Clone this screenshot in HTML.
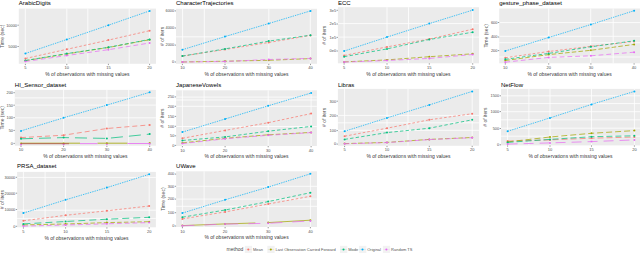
<!DOCTYPE html><html><head><meta charset="utf-8"><style>html,body{margin:0;padding:0;background:#fff;width:640px;height:253px;overflow:hidden}svg{display:block}text{font-family:"Liberation Sans",sans-serif}</style></head><body>
<svg width="640" height="253" viewBox="0 0 640 253">
<rect width="640" height="253" fill="#fff"/>
<g><rect x="18.8" y="8.6" width="137.2" height="55.2" fill="#EBEBEB"/><line x1="25.3" x2="25.3" y1="8.6" y2="63.8" stroke="#fff" stroke-width="0.8"/><line x1="66.8" x2="66.8" y1="8.6" y2="63.8" stroke="#fff" stroke-width="0.8"/><line x1="87.8" x2="87.8" y1="8.6" y2="63.8" stroke="#fff" stroke-width="0.8"/><line x1="129.2" x2="129.2" y1="8.6" y2="63.8" stroke="#fff" stroke-width="0.8"/><line x1="149.6" x2="149.6" y1="8.6" y2="63.8" stroke="#fff" stroke-width="0.8"/><polyline points="25.4,58.5 66.8,49.3 108.4,40.1 149.6,30.7" fill="none" stroke="#F8766D" stroke-width="0.72" stroke-dasharray="2.6 2"/><circle cx="25.4" cy="58.5" r="1" fill="#F8766D"/><circle cx="66.8" cy="49.3" r="1" fill="#F8766D"/><circle cx="108.4" cy="40.1" r="1" fill="#F8766D"/><circle cx="149.6" cy="30.7" r="1" fill="#F8766D"/><polyline points="25.4,60.7 66.8,53.9 108.4,47.5 149.6,39.7" fill="none" stroke="#A3A500" stroke-width="0.72" stroke-dasharray="4.5 2.2"/><circle cx="25.4" cy="60.7" r="1" fill="#A3A500"/><circle cx="66.8" cy="53.9" r="1" fill="#A3A500"/><circle cx="108.4" cy="47.5" r="1" fill="#A3A500"/><circle cx="149.6" cy="39.7" r="1" fill="#A3A500"/><polyline points="25.4,60.5 66.8,53.6 108.4,47.3 149.6,39.4" fill="none" stroke="#00BF7D" stroke-width="0.72" stroke-dasharray="3.4 2.2"/><circle cx="25.4" cy="60.5" r="1" fill="#00BF7D"/><circle cx="66.8" cy="53.6" r="1" fill="#00BF7D"/><circle cx="108.4" cy="47.3" r="1" fill="#00BF7D"/><circle cx="149.6" cy="39.4" r="1" fill="#00BF7D"/><polyline points="25.4,53.5 66.8,39.5 108.4,25.2 149.6,10.9" fill="none" stroke="#00B0F6" stroke-width="0.72" stroke-dasharray="1.4 1"/><circle cx="25.4" cy="53.5" r="1" fill="#00B0F6"/><circle cx="66.8" cy="39.5" r="1" fill="#00B0F6"/><circle cx="108.4" cy="25.2" r="1" fill="#00B0F6"/><circle cx="149.6" cy="10.9" r="1" fill="#00B0F6"/><polyline points="25.4,61.5 66.8,55.5 108.4,49.7 149.6,43" fill="none" stroke="#E76BF3" stroke-width="0.72" stroke-dasharray="4.8 3"/><circle cx="25.4" cy="61.5" r="1" fill="#E76BF3"/><circle cx="66.8" cy="55.5" r="1" fill="#E76BF3"/><circle cx="108.4" cy="49.7" r="1" fill="#E76BF3"/><circle cx="149.6" cy="43" r="1" fill="#E76BF3"/><line x1="25.4" x2="25.4" y1="63.8" y2="65.1" stroke="#333" stroke-width="0.5"/><text x="25.4" y="69.4" font-size="4" fill="#4D4D4D" fill-opacity="1" text-anchor="middle">5</text><line x1="66.8" x2="66.8" y1="63.8" y2="65.1" stroke="#333" stroke-width="0.5"/><text x="66.8" y="69.4" font-size="4" fill="#4D4D4D" fill-opacity="1" text-anchor="middle">10</text><line x1="108.4" x2="108.4" y1="63.8" y2="65.1" stroke="#333" stroke-width="0.5"/><text x="108.4" y="69.4" font-size="4" fill="#4D4D4D" fill-opacity="1" text-anchor="middle">15</text><line x1="149.6" x2="149.6" y1="63.8" y2="65.1" stroke="#333" stroke-width="0.5"/><text x="149.6" y="69.4" font-size="4" fill="#4D4D4D" fill-opacity="1" text-anchor="middle">20</text><line x1="17.5" x2="18.8" y1="25.2" y2="25.2" stroke="#333" stroke-width="0.5"/><text x="17" y="26.55" font-size="3.9" fill="#4D4D4D" fill-opacity="1" text-anchor="end">10000</text><line x1="17.5" x2="18.8" y1="46.5" y2="46.5" stroke="#333" stroke-width="0.5"/><text x="17" y="47.85" font-size="3.9" fill="#4D4D4D" fill-opacity="1" text-anchor="end">5000</text><text x="18.8" y="4.7" font-size="6" fill="#000" fill-opacity="1">ArabicDigits</text><text x="87.4" y="76.1" font-size="5" fill="#000" fill-opacity="0.85" text-anchor="middle">% of observations with missing values</text><text transform="translate(3.6,36.2) rotate(-90)" font-size="5" fill="#000" fill-opacity="0.75" text-anchor="middle">Time (sec)</text></g>
<g><rect x="176" y="8.8" width="141" height="55" fill="#EBEBEB"/><line x1="176" x2="317" y1="36.8" y2="36.8" stroke="#fff" stroke-width="0.8"/><line x1="182.6" x2="182.6" y1="8.8" y2="63.8" stroke="#fff" stroke-width="0.8"/><line x1="204.3" x2="204.3" y1="8.8" y2="63.8" stroke="#fff" stroke-width="0.8"/><line x1="268.8" x2="268.8" y1="8.8" y2="63.8" stroke="#fff" stroke-width="0.8"/><line x1="310.3" x2="310.3" y1="8.8" y2="63.8" stroke="#fff" stroke-width="0.8"/><polyline points="182.4,56.1 225,49.5 268.8,42.5 310.5,35.4" fill="none" stroke="#F8766D" stroke-width="0.72" stroke-dasharray="2.6 2"/><circle cx="182.4" cy="56.1" r="1" fill="#F8766D"/><circle cx="225" cy="49.5" r="1" fill="#F8766D"/><circle cx="268.8" cy="42.5" r="1" fill="#F8766D"/><circle cx="310.5" cy="35.4" r="1" fill="#F8766D"/><polyline points="182.4,62 225,61.2 268.8,60.3 310.5,58.6" fill="none" stroke="#A3A500" stroke-width="0.72" stroke-dasharray="4.5 2.2"/><circle cx="182.4" cy="62" r="1" fill="#A3A500"/><circle cx="225" cy="61.2" r="1" fill="#A3A500"/><circle cx="268.8" cy="60.3" r="1" fill="#A3A500"/><circle cx="310.5" cy="58.6" r="1" fill="#A3A500"/><polyline points="182.4,56.1 225,48.9 268.8,41.1 310.5,35.2" fill="none" stroke="#00BF7D" stroke-width="0.72" stroke-dasharray="3.4 2.2"/><circle cx="182.4" cy="56.1" r="1" fill="#00BF7D"/><circle cx="225" cy="48.9" r="1" fill="#00BF7D"/><circle cx="268.8" cy="41.1" r="1" fill="#00BF7D"/><circle cx="310.5" cy="35.2" r="1" fill="#00BF7D"/><polyline points="182.4,49.7 225,36.6 268.8,23.5 310.5,10.9" fill="none" stroke="#00B0F6" stroke-width="0.72" stroke-dasharray="1.4 1"/><circle cx="182.4" cy="49.7" r="1" fill="#00B0F6"/><circle cx="225" cy="36.6" r="1" fill="#00B0F6"/><circle cx="268.8" cy="23.5" r="1" fill="#00B0F6"/><circle cx="310.5" cy="10.9" r="1" fill="#00B0F6"/><polyline points="182.4,62 225,61.5 268.8,59.5 310.5,58.4" fill="none" stroke="#E76BF3" stroke-width="0.72" stroke-dasharray="4.8 3"/><circle cx="182.4" cy="62" r="1" fill="#E76BF3"/><circle cx="225" cy="61.5" r="1" fill="#E76BF3"/><circle cx="268.8" cy="59.5" r="1" fill="#E76BF3"/><circle cx="310.5" cy="58.4" r="1" fill="#E76BF3"/><line x1="182.4" x2="182.4" y1="63.8" y2="65.1" stroke="#333" stroke-width="0.5"/><text x="182.4" y="69.4" font-size="4" fill="#4D4D4D" fill-opacity="1" text-anchor="middle">10</text><line x1="225" x2="225" y1="63.8" y2="65.1" stroke="#333" stroke-width="0.5"/><text x="225" y="69.4" font-size="4" fill="#4D4D4D" fill-opacity="1" text-anchor="middle">20</text><line x1="268.8" x2="268.8" y1="63.8" y2="65.1" stroke="#333" stroke-width="0.5"/><text x="268.8" y="69.4" font-size="4" fill="#4D4D4D" fill-opacity="1" text-anchor="middle">30</text><line x1="310.5" x2="310.5" y1="63.8" y2="65.1" stroke="#333" stroke-width="0.5"/><text x="310.5" y="69.4" font-size="4" fill="#4D4D4D" fill-opacity="1" text-anchor="middle">40</text><line x1="174.7" x2="176" y1="10.9" y2="10.9" stroke="#333" stroke-width="0.5"/><text x="174.2" y="12.25" font-size="3.9" fill="#4D4D4D" fill-opacity="1" text-anchor="end">6000</text><line x1="174.7" x2="176" y1="28" y2="28" stroke="#333" stroke-width="0.5"/><text x="174.2" y="29.35" font-size="3.9" fill="#4D4D4D" fill-opacity="1" text-anchor="end">4000</text><line x1="174.7" x2="176" y1="45.1" y2="45.1" stroke="#333" stroke-width="0.5"/><text x="174.2" y="46.45" font-size="3.9" fill="#4D4D4D" fill-opacity="1" text-anchor="end">2000</text><line x1="174.7" x2="176" y1="62" y2="62" stroke="#333" stroke-width="0.5"/><text x="174.2" y="63.35" font-size="3.9" fill="#4D4D4D" fill-opacity="1" text-anchor="end">0</text><text x="176" y="4.7" font-size="6" fill="#000" fill-opacity="1">CharacterTrajectories</text><text x="246.5" y="76.1" font-size="5" fill="#000" fill-opacity="0.85" text-anchor="middle">% of observations with missing values</text><text transform="translate(164.2,36.3) rotate(-90)" font-size="5" fill="#000" fill-opacity="0.75" text-anchor="middle"># of iters</text></g>
<g><rect x="337.9" y="7.2" width="141.1" height="56.1" fill="#EBEBEB"/><line x1="337.9" x2="479" y1="23.6" y2="23.6" stroke="#fff" stroke-width="0.8"/><line x1="337.9" x2="479" y1="37.1" y2="37.1" stroke="#fff" stroke-width="0.8"/><line x1="344.1" x2="344.1" y1="7.2" y2="63.3" stroke="#fff" stroke-width="0.8"/><line x1="387" x2="387" y1="7.2" y2="63.3" stroke="#fff" stroke-width="0.8"/><line x1="408.5" x2="408.5" y1="7.2" y2="63.3" stroke="#fff" stroke-width="0.8"/><line x1="472.7" x2="472.7" y1="7.2" y2="63.3" stroke="#fff" stroke-width="0.8"/><polyline points="344.1,55.5 387,46.9 429.3,39 472.7,29.2" fill="none" stroke="#F8766D" stroke-width="0.72" stroke-dasharray="2.6 2"/><circle cx="344.1" cy="55.5" r="1" fill="#F8766D"/><circle cx="387" cy="46.9" r="1" fill="#F8766D"/><circle cx="429.3" cy="39" r="1" fill="#F8766D"/><circle cx="472.7" cy="29.2" r="1" fill="#F8766D"/><polyline points="344.1,61.9 387,59.9 429.3,56.7 472.7,53.8" fill="none" stroke="#A3A500" stroke-width="0.72" stroke-dasharray="4.5 2.2"/><circle cx="344.1" cy="61.9" r="1" fill="#A3A500"/><circle cx="387" cy="59.9" r="1" fill="#A3A500"/><circle cx="429.3" cy="56.7" r="1" fill="#A3A500"/><circle cx="472.7" cy="53.8" r="1" fill="#A3A500"/><polyline points="344.1,56.7 387,48.9 429.3,39.5 472.7,32.2" fill="none" stroke="#00BF7D" stroke-width="0.72" stroke-dasharray="3.4 2.2"/><circle cx="344.1" cy="56.7" r="1" fill="#00BF7D"/><circle cx="387" cy="48.9" r="1" fill="#00BF7D"/><circle cx="429.3" cy="39.5" r="1" fill="#00BF7D"/><circle cx="472.7" cy="32.2" r="1" fill="#00BF7D"/><polyline points="344.1,51.1 387,37.1 429.3,23.6 472.7,10.1" fill="none" stroke="#00B0F6" stroke-width="0.72" stroke-dasharray="1.4 1"/><circle cx="344.1" cy="51.1" r="1" fill="#00B0F6"/><circle cx="387" cy="37.1" r="1" fill="#00B0F6"/><circle cx="429.3" cy="23.6" r="1" fill="#00B0F6"/><circle cx="472.7" cy="10.1" r="1" fill="#00B0F6"/><polyline points="344.1,62.1 387,60.5 429.3,58.4 472.7,54.5" fill="none" stroke="#E76BF3" stroke-width="0.72" stroke-dasharray="4.8 3"/><circle cx="344.1" cy="62.1" r="1" fill="#E76BF3"/><circle cx="387" cy="60.5" r="1" fill="#E76BF3"/><circle cx="429.3" cy="58.4" r="1" fill="#E76BF3"/><circle cx="472.7" cy="54.5" r="1" fill="#E76BF3"/><line x1="344.1" x2="344.1" y1="63.3" y2="64.6" stroke="#333" stroke-width="0.5"/><text x="344.1" y="68.9" font-size="4" fill="#4D4D4D" fill-opacity="1" text-anchor="middle">5</text><line x1="387" x2="387" y1="63.3" y2="64.6" stroke="#333" stroke-width="0.5"/><text x="387" y="68.9" font-size="4" fill="#4D4D4D" fill-opacity="1" text-anchor="middle">10</text><line x1="429.3" x2="429.3" y1="63.3" y2="64.6" stroke="#333" stroke-width="0.5"/><text x="429.3" y="68.9" font-size="4" fill="#4D4D4D" fill-opacity="1" text-anchor="middle">15</text><line x1="472.7" x2="472.7" y1="63.3" y2="64.6" stroke="#333" stroke-width="0.5"/><text x="472.7" y="68.9" font-size="4" fill="#4D4D4D" fill-opacity="1" text-anchor="middle">20</text><line x1="336.6" x2="337.9" y1="10.3" y2="10.3" stroke="#333" stroke-width="0.5"/><text x="336.1" y="11.65" font-size="3.9" fill="#4D4D4D" fill-opacity="1" text-anchor="end">3e5</text><line x1="336.6" x2="337.9" y1="24" y2="24" stroke="#333" stroke-width="0.5"/><text x="336.1" y="25.35" font-size="3.9" fill="#4D4D4D" fill-opacity="1" text-anchor="end">2e5</text><line x1="336.6" x2="337.9" y1="37.4" y2="37.4" stroke="#333" stroke-width="0.5"/><text x="336.1" y="38.75" font-size="3.9" fill="#4D4D4D" fill-opacity="1" text-anchor="end">1e5</text><line x1="336.6" x2="337.9" y1="51" y2="51" stroke="#333" stroke-width="0.5"/><text x="336.1" y="52.35" font-size="3.9" fill="#4D4D4D" fill-opacity="1" text-anchor="end">0e0</text><text x="337.9" y="4.7" font-size="6" fill="#000" fill-opacity="1">ECC</text><text x="408.45" y="75.6" font-size="5" fill="#000" fill-opacity="0.85" text-anchor="middle">% of observations with missing values</text><text transform="translate(326.3,35.25) rotate(-90)" font-size="5" fill="#000" fill-opacity="0.75" text-anchor="middle"># of iters</text></g>
<g><rect x="499.2" y="8.5" width="140.8" height="54.8" fill="#EBEBEB"/><line x1="499.2" x2="640" y1="22.6" y2="22.6" stroke="#fff" stroke-width="0.8"/><line x1="499.2" x2="640" y1="36.3" y2="36.3" stroke="#fff" stroke-width="0.8"/><line x1="499.2" x2="640" y1="42.7" y2="42.7" stroke="#fff" stroke-width="0.8"/><line x1="499.2" x2="640" y1="57" y2="57" stroke="#fff" stroke-width="0.8"/><line x1="548.7" x2="548.7" y1="8.5" y2="63.3" stroke="#fff" stroke-width="0.8"/><line x1="590.7" x2="590.7" y1="8.5" y2="63.3" stroke="#fff" stroke-width="0.8"/><line x1="613.2" x2="613.2" y1="8.5" y2="63.3" stroke="#fff" stroke-width="0.8"/><polyline points="505.3,57.7 548.7,51.5 590.9,46.3 634.1,41.5" fill="none" stroke="#F8766D" stroke-width="0.72" stroke-dasharray="2.6 2"/><circle cx="505.3" cy="57.7" r="1" fill="#F8766D"/><circle cx="548.7" cy="51.5" r="1" fill="#F8766D"/><circle cx="590.9" cy="46.3" r="1" fill="#F8766D"/><circle cx="634.1" cy="41.5" r="1" fill="#F8766D"/><polyline points="505.3,60.5 548.7,54.6 590.9,50.3 634.1,44.4" fill="none" stroke="#A3A500" stroke-width="0.72" stroke-dasharray="4.5 2.2"/><circle cx="505.3" cy="60.5" r="1" fill="#A3A500"/><circle cx="548.7" cy="54.6" r="1" fill="#A3A500"/><circle cx="590.9" cy="50.3" r="1" fill="#A3A500"/><circle cx="634.1" cy="44.4" r="1" fill="#A3A500"/><polyline points="505.3,59.3 548.7,53.4 590.9,46.8 634.1,40.8" fill="none" stroke="#00BF7D" stroke-width="0.72" stroke-dasharray="3.4 2.2"/><circle cx="505.3" cy="59.3" r="1" fill="#00BF7D"/><circle cx="548.7" cy="53.4" r="1" fill="#00BF7D"/><circle cx="590.9" cy="46.8" r="1" fill="#00BF7D"/><circle cx="634.1" cy="40.8" r="1" fill="#00BF7D"/><polyline points="505.3,51 548.7,37.5 590.9,24.5 634.1,10.7" fill="none" stroke="#00B0F6" stroke-width="0.72" stroke-dasharray="1.4 1"/><circle cx="505.3" cy="51" r="1" fill="#00B0F6"/><circle cx="548.7" cy="37.5" r="1" fill="#00B0F6"/><circle cx="590.9" cy="24.5" r="1" fill="#00B0F6"/><circle cx="634.1" cy="10.7" r="1" fill="#00B0F6"/><polyline points="505.3,62.2 548.7,57.4 590.9,55.8 634.1,52.2" fill="none" stroke="#E76BF3" stroke-width="0.72" stroke-dasharray="4.8 3"/><circle cx="505.3" cy="62.2" r="1" fill="#E76BF3"/><circle cx="548.7" cy="57.4" r="1" fill="#E76BF3"/><circle cx="590.9" cy="55.8" r="1" fill="#E76BF3"/><circle cx="634.1" cy="52.2" r="1" fill="#E76BF3"/><line x1="505.3" x2="505.3" y1="63.3" y2="64.6" stroke="#333" stroke-width="0.5"/><text x="505.3" y="68.9" font-size="4" fill="#4D4D4D" fill-opacity="1" text-anchor="middle">10</text><line x1="548.7" x2="548.7" y1="63.3" y2="64.6" stroke="#333" stroke-width="0.5"/><text x="548.7" y="68.9" font-size="4" fill="#4D4D4D" fill-opacity="1" text-anchor="middle">20</text><line x1="590.9" x2="590.9" y1="63.3" y2="64.6" stroke="#333" stroke-width="0.5"/><text x="590.9" y="68.9" font-size="4" fill="#4D4D4D" fill-opacity="1" text-anchor="middle">30</text><line x1="634.1" x2="634.1" y1="63.3" y2="64.6" stroke="#333" stroke-width="0.5"/><text x="634.1" y="68.9" font-size="4" fill="#4D4D4D" fill-opacity="1" text-anchor="middle">40</text><line x1="497.9" x2="499.2" y1="22.5" y2="22.5" stroke="#333" stroke-width="0.5"/><text x="497.4" y="23.85" font-size="3.9" fill="#4D4D4D" fill-opacity="1" text-anchor="end">600</text><line x1="497.9" x2="499.2" y1="37" y2="37" stroke="#333" stroke-width="0.5"/><text x="497.4" y="38.35" font-size="3.9" fill="#4D4D4D" fill-opacity="1" text-anchor="end">400</text><line x1="497.9" x2="499.2" y1="50.6" y2="50.6" stroke="#333" stroke-width="0.5"/><text x="497.4" y="51.95" font-size="3.9" fill="#4D4D4D" fill-opacity="1" text-anchor="end">200</text><text x="499.2" y="4.7" font-size="6" fill="#000" fill-opacity="1">gesture_phase_dataset</text><text x="569.6" y="75.6" font-size="5" fill="#000" fill-opacity="0.85" text-anchor="middle">% of observations with missing values</text><text transform="translate(488,35.9) rotate(-90)" font-size="5" fill="#000" fill-opacity="0.75" text-anchor="middle">Time (sec)</text></g>
<g><rect x="14.8" y="89.9" width="141.1" height="55.8" fill="#EBEBEB"/><line x1="14.8" x2="155.9" y1="97.9" y2="97.9" stroke="#fff" stroke-width="0.8"/><line x1="14.8" x2="155.9" y1="105.1" y2="105.1" stroke="#fff" stroke-width="0.8"/><line x1="14.8" x2="155.9" y1="117.8" y2="117.8" stroke="#fff" stroke-width="0.8"/><line x1="63.6" x2="63.6" y1="89.9" y2="145.7" stroke="#fff" stroke-width="0.8"/><line x1="106.9" x2="106.9" y1="89.9" y2="145.7" stroke="#fff" stroke-width="0.8"/><line x1="128.7" x2="128.7" y1="89.9" y2="145.7" stroke="#fff" stroke-width="0.8"/><polyline points="21,137.6 63.6,135.2 106.9,128.5 149.7,124.9" fill="none" stroke="#F8766D" stroke-width="0.72" stroke-dasharray="5 3"/><circle cx="21" cy="137.6" r="1" fill="#F8766D"/><circle cx="63.6" cy="135.2" r="1" fill="#F8766D"/><circle cx="106.9" cy="128.5" r="1" fill="#F8766D"/><circle cx="149.7" cy="124.9" r="1" fill="#F8766D"/><circle cx="21" cy="143.6" r="1" fill="#A3A500"/><circle cx="63.6" cy="143.5" r="1" fill="#A3A500"/><circle cx="106.9" cy="143.3" r="1" fill="#A3A500"/><circle cx="149.7" cy="143" r="1" fill="#A3A500"/><polyline points="21,138.8 63.6,137.6 106.9,138.4 149.7,134.1" fill="none" stroke="#00BF7D" stroke-width="0.72" stroke-dasharray="12 6"/><circle cx="21" cy="138.8" r="1" fill="#00BF7D"/><circle cx="63.6" cy="137.6" r="1" fill="#00BF7D"/><circle cx="106.9" cy="138.4" r="1" fill="#00BF7D"/><circle cx="149.7" cy="134.1" r="1" fill="#00BF7D"/><polyline points="21,130.9 63.6,117.8 106.9,105.1 149.7,92.3" fill="none" stroke="#00B0F6" stroke-width="0.72" stroke-dasharray="1.4 1"/><circle cx="21" cy="130.9" r="1" fill="#00B0F6"/><circle cx="63.6" cy="117.8" r="1" fill="#00B0F6"/><circle cx="106.9" cy="105.1" r="1" fill="#00B0F6"/><circle cx="149.7" cy="92.3" r="1" fill="#00B0F6"/><circle cx="21" cy="144.4" r="1" fill="#E76BF3"/><circle cx="63.6" cy="144.3" r="1" fill="#E76BF3"/><circle cx="106.9" cy="144.1" r="1" fill="#E76BF3"/><circle cx="149.7" cy="143.8" r="1" fill="#E76BF3"/><path d="M21 143.2H80M97.5 143.2H127.5" stroke="#A3A500" stroke-width="0.8" fill="none"/><path d="M21 143.7H69" stroke="#B0504E" stroke-width="0.8" fill="none"/><path d="M80 143.6H97.5M127.5 143.5H150" stroke="#E76BF3" stroke-width="0.8" fill="none"/><line x1="21" x2="21" y1="145.7" y2="147" stroke="#333" stroke-width="0.5"/><text x="21" y="151.3" font-size="4" fill="#4D4D4D" fill-opacity="1" text-anchor="middle">10</text><line x1="63.6" x2="63.6" y1="145.7" y2="147" stroke="#333" stroke-width="0.5"/><text x="63.6" y="151.3" font-size="4" fill="#4D4D4D" fill-opacity="1" text-anchor="middle">20</text><line x1="106.9" x2="106.9" y1="145.7" y2="147" stroke="#333" stroke-width="0.5"/><text x="106.9" y="151.3" font-size="4" fill="#4D4D4D" fill-opacity="1" text-anchor="middle">30</text><line x1="149.7" x2="149.7" y1="145.7" y2="147" stroke="#333" stroke-width="0.5"/><text x="149.7" y="151.3" font-size="4" fill="#4D4D4D" fill-opacity="1" text-anchor="middle">40</text><line x1="13.5" x2="14.8" y1="92.7" y2="92.7" stroke="#333" stroke-width="0.5"/><text x="13" y="94.05" font-size="3.9" fill="#4D4D4D" fill-opacity="1" text-anchor="end">200</text><line x1="13.5" x2="14.8" y1="105.2" y2="105.2" stroke="#333" stroke-width="0.5"/><text x="13" y="106.55" font-size="3.9" fill="#4D4D4D" fill-opacity="1" text-anchor="end">150</text><line x1="13.5" x2="14.8" y1="117.6" y2="117.6" stroke="#333" stroke-width="0.5"/><text x="13" y="118.95" font-size="3.9" fill="#4D4D4D" fill-opacity="1" text-anchor="end">100</text><line x1="13.5" x2="14.8" y1="130.4" y2="130.4" stroke="#333" stroke-width="0.5"/><text x="13" y="131.75" font-size="3.9" fill="#4D4D4D" fill-opacity="1" text-anchor="end">50</text><line x1="13.5" x2="14.8" y1="143.4" y2="143.4" stroke="#333" stroke-width="0.5"/><text x="13" y="144.75" font-size="3.9" fill="#4D4D4D" fill-opacity="1" text-anchor="end">0</text><text x="14.8" y="86.7" font-size="6" fill="#000" fill-opacity="1">HI_Sensor_dataset</text><text x="85.35" y="158" font-size="5" fill="#000" fill-opacity="0.85" text-anchor="middle">% of observations with missing values</text><text transform="translate(3.6,117.8) rotate(-90)" font-size="5" fill="#000" fill-opacity="0.75" text-anchor="middle">Time (sec)</text></g>
<g><rect x="176.1" y="90.3" width="140.8" height="55.7" fill="#EBEBEB"/><line x1="176.1" x2="316.9" y1="97.1" y2="97.1" stroke="#fff" stroke-width="0.8"/><line x1="176.1" x2="316.9" y1="100" y2="100" stroke="#fff" stroke-width="0.8"/><line x1="176.1" x2="316.9" y1="106.3" y2="106.3" stroke="#fff" stroke-width="0.8"/><line x1="176.1" x2="316.9" y1="126.5" y2="126.5" stroke="#fff" stroke-width="0.8"/><line x1="182.4" x2="182.4" y1="90.3" y2="146" stroke="#fff" stroke-width="0.8"/><line x1="204.1" x2="204.1" y1="90.3" y2="146" stroke="#fff" stroke-width="0.8"/><line x1="268.2" x2="268.2" y1="90.3" y2="146" stroke="#fff" stroke-width="0.8"/><line x1="311.1" x2="311.1" y1="90.3" y2="146" stroke="#fff" stroke-width="0.8"/><polyline points="182.4,138.3 225.1,130.4 268.2,122.7 311.1,113.6" fill="none" stroke="#F8766D" stroke-width="0.72" stroke-dasharray="2.6 2"/><circle cx="182.4" cy="138.3" r="1" fill="#F8766D"/><circle cx="225.1" cy="130.4" r="1" fill="#F8766D"/><circle cx="268.2" cy="122.7" r="1" fill="#F8766D"/><circle cx="311.1" cy="113.6" r="1" fill="#F8766D"/><polyline points="182.4,142.9 225.1,138.3 268.2,134.8 311.1,132.4" fill="none" stroke="#A3A500" stroke-width="0.72" stroke-dasharray="4.5 2.2"/><circle cx="182.4" cy="142.9" r="1" fill="#A3A500"/><circle cx="225.1" cy="138.3" r="1" fill="#A3A500"/><circle cx="268.2" cy="134.8" r="1" fill="#A3A500"/><circle cx="311.1" cy="132.4" r="1" fill="#A3A500"/><polyline points="182.4,140.5 225.1,136.9 268.2,131.2 311.1,126.4" fill="none" stroke="#00BF7D" stroke-width="0.72" stroke-dasharray="3.4 2.2"/><circle cx="182.4" cy="140.5" r="1" fill="#00BF7D"/><circle cx="225.1" cy="136.9" r="1" fill="#00BF7D"/><circle cx="268.2" cy="131.2" r="1" fill="#00BF7D"/><circle cx="311.1" cy="126.4" r="1" fill="#00BF7D"/><polyline points="182.4,132.1 225.1,119 268.2,105.8 311.1,93" fill="none" stroke="#00B0F6" stroke-width="0.72" stroke-dasharray="1.4 1"/><circle cx="182.4" cy="132.1" r="1" fill="#00B0F6"/><circle cx="225.1" cy="119" r="1" fill="#00B0F6"/><circle cx="268.2" cy="105.8" r="1" fill="#00B0F6"/><circle cx="311.1" cy="93" r="1" fill="#00B0F6"/><polyline points="182.4,143.6 225.1,138.8 268.2,135.3 311.1,132.6" fill="none" stroke="#E76BF3" stroke-width="0.72" stroke-dasharray="4.8 3"/><circle cx="182.4" cy="143.6" r="1" fill="#E76BF3"/><circle cx="225.1" cy="138.8" r="1" fill="#E76BF3"/><circle cx="268.2" cy="135.3" r="1" fill="#E76BF3"/><circle cx="311.1" cy="132.6" r="1" fill="#E76BF3"/><line x1="182.4" x2="182.4" y1="146" y2="147.3" stroke="#333" stroke-width="0.5"/><text x="182.4" y="151.6" font-size="4" fill="#4D4D4D" fill-opacity="1" text-anchor="middle">10</text><line x1="225.1" x2="225.1" y1="146" y2="147.3" stroke="#333" stroke-width="0.5"/><text x="225.1" y="151.6" font-size="4" fill="#4D4D4D" fill-opacity="1" text-anchor="middle">20</text><line x1="268.2" x2="268.2" y1="146" y2="147.3" stroke="#333" stroke-width="0.5"/><text x="268.2" y="151.6" font-size="4" fill="#4D4D4D" fill-opacity="1" text-anchor="middle">30</text><line x1="311.1" x2="311.1" y1="146" y2="147.3" stroke="#333" stroke-width="0.5"/><text x="311.1" y="151.6" font-size="4" fill="#4D4D4D" fill-opacity="1" text-anchor="middle">40</text><line x1="174.8" x2="176.1" y1="96.9" y2="96.9" stroke="#333" stroke-width="0.5"/><text x="174.3" y="98.25" font-size="3.9" fill="#4D4D4D" fill-opacity="1" text-anchor="end">250</text><line x1="174.8" x2="176.1" y1="106.3" y2="106.3" stroke="#333" stroke-width="0.5"/><text x="174.3" y="107.65" font-size="3.9" fill="#4D4D4D" fill-opacity="1" text-anchor="end">200</text><line x1="174.8" x2="176.1" y1="116.4" y2="116.4" stroke="#333" stroke-width="0.5"/><text x="174.3" y="117.75" font-size="3.9" fill="#4D4D4D" fill-opacity="1" text-anchor="end">150</text><line x1="174.8" x2="176.1" y1="126.3" y2="126.3" stroke="#333" stroke-width="0.5"/><text x="174.3" y="127.65" font-size="3.9" fill="#4D4D4D" fill-opacity="1" text-anchor="end">100</text><line x1="174.8" x2="176.1" y1="135.8" y2="135.8" stroke="#333" stroke-width="0.5"/><text x="174.3" y="137.15" font-size="3.9" fill="#4D4D4D" fill-opacity="1" text-anchor="end">50</text><line x1="174.8" x2="176.1" y1="145.4" y2="145.4" stroke="#333" stroke-width="0.5"/><text x="174.3" y="146.75" font-size="3.9" fill="#4D4D4D" fill-opacity="1" text-anchor="end">0</text><text x="176.1" y="86.7" font-size="6" fill="#000" fill-opacity="1">JapaneseVowels</text><text x="246.5" y="158.3" font-size="5" fill="#000" fill-opacity="0.85" text-anchor="middle">% of observations with missing values</text><text transform="translate(164.4,118.15) rotate(-90)" font-size="5" fill="#000" fill-opacity="0.75" text-anchor="middle"># of iters</text></g>
<g><rect x="337.9" y="88.9" width="141.2" height="56.9" fill="#EBEBEB"/><line x1="337.9" x2="479.1" y1="115.4" y2="115.4" stroke="#fff" stroke-width="0.8"/><line x1="337.9" x2="479.1" y1="122.8" y2="122.8" stroke="#fff" stroke-width="0.8"/><line x1="337.9" x2="479.1" y1="130.3" y2="130.3" stroke="#fff" stroke-width="0.8"/><line x1="344.6" x2="344.6" y1="88.9" y2="145.8" stroke="#fff" stroke-width="0.8"/><line x1="387" x2="387" y1="88.9" y2="145.8" stroke="#fff" stroke-width="0.8"/><line x1="408" x2="408" y1="88.9" y2="145.8" stroke="#fff" stroke-width="0.8"/><line x1="472.2" x2="472.2" y1="88.9" y2="145.8" stroke="#fff" stroke-width="0.8"/><polyline points="344.6,136.2 387,128.2 429.3,119.8 472.2,113.7" fill="none" stroke="#F8766D" stroke-width="0.72" stroke-dasharray="2.6 2"/><circle cx="344.6" cy="136.2" r="1" fill="#F8766D"/><circle cx="387" cy="128.2" r="1" fill="#F8766D"/><circle cx="429.3" cy="119.8" r="1" fill="#F8766D"/><circle cx="472.2" cy="113.7" r="1" fill="#F8766D"/><polyline points="344.6,143.6 387,142.4 429.3,139.4 472.2,137.5" fill="none" stroke="#A3A500" stroke-width="0.72" stroke-dasharray="4.5 2.2"/><circle cx="344.6" cy="143.6" r="1" fill="#A3A500"/><circle cx="387" cy="142.4" r="1" fill="#A3A500"/><circle cx="429.3" cy="139.4" r="1" fill="#A3A500"/><circle cx="472.2" cy="137.5" r="1" fill="#A3A500"/><polyline points="344.6,139.4 387,132.6 429.3,128.2 472.2,119.8" fill="none" stroke="#00BF7D" stroke-width="0.72" stroke-dasharray="3.4 2.2"/><circle cx="344.6" cy="139.4" r="1" fill="#00BF7D"/><circle cx="387" cy="132.6" r="1" fill="#00BF7D"/><circle cx="429.3" cy="128.2" r="1" fill="#00BF7D"/><circle cx="472.2" cy="119.8" r="1" fill="#00BF7D"/><polyline points="344.6,131.3 387,117.9 429.3,104.9 472.2,91.4" fill="none" stroke="#00B0F6" stroke-width="0.72" stroke-dasharray="1.4 1"/><circle cx="344.6" cy="131.3" r="1" fill="#00B0F6"/><circle cx="387" cy="117.9" r="1" fill="#00B0F6"/><circle cx="429.3" cy="104.9" r="1" fill="#00B0F6"/><circle cx="472.2" cy="91.4" r="1" fill="#00B0F6"/><polyline points="344.6,143.8 387,142.6 429.3,139.6 472.2,137.7" fill="none" stroke="#E76BF3" stroke-width="0.72" stroke-dasharray="4.8 3"/><circle cx="344.6" cy="143.8" r="1" fill="#E76BF3"/><circle cx="387" cy="142.6" r="1" fill="#E76BF3"/><circle cx="429.3" cy="139.6" r="1" fill="#E76BF3"/><circle cx="472.2" cy="137.7" r="1" fill="#E76BF3"/><line x1="344.6" x2="344.6" y1="145.8" y2="147.1" stroke="#333" stroke-width="0.5"/><text x="344.6" y="151.4" font-size="4" fill="#4D4D4D" fill-opacity="1" text-anchor="middle">5</text><line x1="387" x2="387" y1="145.8" y2="147.1" stroke="#333" stroke-width="0.5"/><text x="387" y="151.4" font-size="4" fill="#4D4D4D" fill-opacity="1" text-anchor="middle">10</text><line x1="429.3" x2="429.3" y1="145.8" y2="147.1" stroke="#333" stroke-width="0.5"/><text x="429.3" y="151.4" font-size="4" fill="#4D4D4D" fill-opacity="1" text-anchor="middle">15</text><line x1="472.2" x2="472.2" y1="145.8" y2="147.1" stroke="#333" stroke-width="0.5"/><text x="472.2" y="151.4" font-size="4" fill="#4D4D4D" fill-opacity="1" text-anchor="middle">20</text><line x1="336.6" x2="337.9" y1="101.2" y2="101.2" stroke="#333" stroke-width="0.5"/><text x="336.1" y="102.55" font-size="3.9" fill="#4D4D4D" fill-opacity="1" text-anchor="end">300</text><line x1="336.6" x2="337.9" y1="115.9" y2="115.9" stroke="#333" stroke-width="0.5"/><text x="336.1" y="117.25" font-size="3.9" fill="#4D4D4D" fill-opacity="1" text-anchor="end">200</text><line x1="336.6" x2="337.9" y1="130.6" y2="130.6" stroke="#333" stroke-width="0.5"/><text x="336.1" y="131.95" font-size="3.9" fill="#4D4D4D" fill-opacity="1" text-anchor="end">100</text><line x1="336.6" x2="337.9" y1="144.1" y2="144.1" stroke="#333" stroke-width="0.5"/><text x="336.1" y="145.45" font-size="3.9" fill="#4D4D4D" fill-opacity="1" text-anchor="end">0</text><text x="337.9" y="86.7" font-size="6" fill="#000" fill-opacity="1">Libras</text><text x="408.5" y="158.1" font-size="5" fill="#000" fill-opacity="0.85" text-anchor="middle">% of observations with missing values</text><text transform="translate(326.1,117.35) rotate(-90)" font-size="5" fill="#000" fill-opacity="0.75" text-anchor="middle"># of iters</text></g>
<g><rect x="501" y="88.9" width="139" height="56.5" fill="#EBEBEB"/><line x1="501" x2="640" y1="95.8" y2="95.8" stroke="#fff" stroke-width="0.8"/><line x1="501" x2="640" y1="103.6" y2="103.6" stroke="#fff" stroke-width="0.8"/><line x1="501" x2="640" y1="111.7" y2="111.7" stroke="#fff" stroke-width="0.8"/><line x1="501" x2="640" y1="119.8" y2="119.8" stroke="#fff" stroke-width="0.8"/><line x1="501" x2="640" y1="128.2" y2="128.2" stroke="#fff" stroke-width="0.8"/><line x1="501" x2="640" y1="136.2" y2="136.2" stroke="#fff" stroke-width="0.8"/><line x1="507.6" x2="507.6" y1="88.9" y2="145.4" stroke="#fff" stroke-width="0.8"/><line x1="528.9" x2="528.9" y1="88.9" y2="145.4" stroke="#fff" stroke-width="0.8"/><line x1="550" x2="550" y1="88.9" y2="145.4" stroke="#fff" stroke-width="0.8"/><line x1="591.5" x2="591.5" y1="88.9" y2="145.4" stroke="#fff" stroke-width="0.8"/><line x1="634.4" x2="634.4" y1="88.9" y2="145.4" stroke="#fff" stroke-width="0.8"/><polyline points="507.6,141.1 550,139.9 591.5,138.2 634.4,137" fill="none" stroke="#F8766D" stroke-width="0.72" stroke-dasharray="6 3"/><circle cx="507.6" cy="141.1" r="1" fill="#F8766D"/><circle cx="550" cy="139.9" r="1" fill="#F8766D"/><circle cx="591.5" cy="138.2" r="1" fill="#F8766D"/><circle cx="634.4" cy="137" r="1" fill="#F8766D"/><polyline points="507.6,141.9 550,137 591.5,133.3 634.4,130.6" fill="none" stroke="#A3A500" stroke-width="0.72" stroke-dasharray="6 3"/><circle cx="507.6" cy="141.9" r="1" fill="#A3A500"/><circle cx="550" cy="137" r="1" fill="#A3A500"/><circle cx="591.5" cy="133.3" r="1" fill="#A3A500"/><circle cx="634.4" cy="130.6" r="1" fill="#A3A500"/><polyline points="507.6,142.4 550,139.4 591.5,136.7 634.4,135.8" fill="none" stroke="#00BF7D" stroke-width="0.72" stroke-dasharray="6 3"/><circle cx="507.6" cy="142.4" r="1" fill="#00BF7D"/><circle cx="550" cy="139.4" r="1" fill="#00BF7D"/><circle cx="591.5" cy="136.7" r="1" fill="#00BF7D"/><circle cx="634.4" cy="135.8" r="1" fill="#00BF7D"/><polyline points="507.6,131.3 550,117.9 591.5,104.4 634.4,91.4" fill="none" stroke="#00B0F6" stroke-width="0.72" stroke-dasharray="1.4 1"/><circle cx="507.6" cy="131.3" r="1" fill="#00B0F6"/><circle cx="550" cy="117.9" r="1" fill="#00B0F6"/><circle cx="591.5" cy="104.4" r="1" fill="#00B0F6"/><circle cx="634.4" cy="91.4" r="1" fill="#00B0F6"/><polyline points="507.6,144.1 550,142.9 591.5,141.6 634.4,139.9" fill="none" stroke="#E76BF3" stroke-width="0.72" stroke-dasharray="10 6"/><circle cx="507.6" cy="144.1" r="1" fill="#E76BF3"/><circle cx="550" cy="142.9" r="1" fill="#E76BF3"/><circle cx="591.5" cy="141.6" r="1" fill="#E76BF3"/><circle cx="634.4" cy="139.9" r="1" fill="#E76BF3"/><line x1="507.6" x2="507.6" y1="145.4" y2="146.7" stroke="#333" stroke-width="0.5"/><text x="507.6" y="151" font-size="4" fill="#4D4D4D" fill-opacity="1" text-anchor="middle">5</text><line x1="550" x2="550" y1="145.4" y2="146.7" stroke="#333" stroke-width="0.5"/><text x="550" y="151" font-size="4" fill="#4D4D4D" fill-opacity="1" text-anchor="middle">10</text><line x1="591.5" x2="591.5" y1="145.4" y2="146.7" stroke="#333" stroke-width="0.5"/><text x="591.5" y="151" font-size="4" fill="#4D4D4D" fill-opacity="1" text-anchor="middle">15</text><line x1="634.4" x2="634.4" y1="145.4" y2="146.7" stroke="#333" stroke-width="0.5"/><text x="634.4" y="151" font-size="4" fill="#4D4D4D" fill-opacity="1" text-anchor="middle">20</text><line x1="499.7" x2="501" y1="95.8" y2="95.8" stroke="#333" stroke-width="0.5"/><text x="499.2" y="97.15" font-size="3.9" fill="#4D4D4D" fill-opacity="1" text-anchor="end">1500</text><line x1="499.7" x2="501" y1="111.6" y2="111.6" stroke="#333" stroke-width="0.5"/><text x="499.2" y="112.95" font-size="3.9" fill="#4D4D4D" fill-opacity="1" text-anchor="end">1000</text><line x1="499.7" x2="501" y1="128.5" y2="128.5" stroke="#333" stroke-width="0.5"/><text x="499.2" y="129.85" font-size="3.9" fill="#4D4D4D" fill-opacity="1" text-anchor="end">500</text><line x1="499.7" x2="501" y1="144.8" y2="144.8" stroke="#333" stroke-width="0.5"/><text x="499.2" y="146.15" font-size="3.9" fill="#4D4D4D" fill-opacity="1" text-anchor="end">0</text><text x="501" y="86.7" font-size="6" fill="#000" fill-opacity="1">NetFlow</text><text x="570.5" y="157.7" font-size="5" fill="#000" fill-opacity="0.85" text-anchor="middle">% of observations with missing values</text><text transform="translate(486.8,117.15) rotate(-90)" font-size="5" fill="#000" fill-opacity="0.75" text-anchor="middle"># of iters</text></g>
<g><rect x="17.1" y="171.9" width="138.8" height="55.4" fill="#EBEBEB"/><line x1="17.1" x2="155.9" y1="177.4" y2="177.4" stroke="#fff" stroke-width="0.8"/><line x1="17.1" x2="155.9" y1="210.2" y2="210.2" stroke="#fff" stroke-width="0.8"/><line x1="17.1" x2="155.9" y1="218.4" y2="218.4" stroke="#fff" stroke-width="0.8"/><line x1="23.4" x2="23.4" y1="171.9" y2="227.3" stroke="#fff" stroke-width="0.8"/><line x1="45.1" x2="45.1" y1="171.9" y2="227.3" stroke="#fff" stroke-width="0.8"/><line x1="65.6" x2="65.6" y1="171.9" y2="227.3" stroke="#fff" stroke-width="0.8"/><line x1="149.2" x2="149.2" y1="171.9" y2="227.3" stroke="#fff" stroke-width="0.8"/><polyline points="23.4,220.8 65.6,215.3 106.9,210.8 149.2,206" fill="none" stroke="#F8766D" stroke-width="0.72" stroke-dasharray="2.6 2"/><circle cx="23.4" cy="220.8" r="1" fill="#F8766D"/><circle cx="65.6" cy="215.3" r="1" fill="#F8766D"/><circle cx="106.9" cy="210.8" r="1" fill="#F8766D"/><circle cx="149.2" cy="206" r="1" fill="#F8766D"/><polyline points="23.4,224.9 65.6,224 106.9,222.6 149.2,221.7" fill="none" stroke="#A3A500" stroke-width="0.72" stroke-dasharray="4.5 2.2"/><circle cx="23.4" cy="224.9" r="1" fill="#A3A500"/><circle cx="65.6" cy="224" r="1" fill="#A3A500"/><circle cx="106.9" cy="222.6" r="1" fill="#A3A500"/><circle cx="149.2" cy="221.7" r="1" fill="#A3A500"/><polyline points="23.4,223.9 65.6,221.5 106.9,219.2 149.2,217.3" fill="none" stroke="#00BF7D" stroke-width="0.72" stroke-dasharray="7 4"/><circle cx="23.4" cy="223.9" r="1" fill="#00BF7D"/><circle cx="65.6" cy="221.5" r="1" fill="#00BF7D"/><circle cx="106.9" cy="219.2" r="1" fill="#00BF7D"/><circle cx="149.2" cy="217.3" r="1" fill="#00BF7D"/><polyline points="23.4,213.1 65.6,199.8 106.9,187.6 149.2,174.3" fill="none" stroke="#00B0F6" stroke-width="0.72" stroke-dasharray="1.4 1"/><circle cx="23.4" cy="213.1" r="1" fill="#00B0F6"/><circle cx="65.6" cy="199.8" r="1" fill="#00B0F6"/><circle cx="106.9" cy="187.6" r="1" fill="#00B0F6"/><circle cx="149.2" cy="174.3" r="1" fill="#00B0F6"/><polyline points="23.4,226.1 65.6,225 106.9,223.8 149.2,222.6" fill="none" stroke="#E76BF3" stroke-width="0.72" stroke-dasharray="4.8 3"/><circle cx="23.4" cy="226.1" r="1" fill="#E76BF3"/><circle cx="65.6" cy="225" r="1" fill="#E76BF3"/><circle cx="106.9" cy="223.8" r="1" fill="#E76BF3"/><circle cx="149.2" cy="222.6" r="1" fill="#E76BF3"/><line x1="23.4" x2="23.4" y1="227.3" y2="228.6" stroke="#333" stroke-width="0.5"/><text x="23.4" y="232.9" font-size="4" fill="#4D4D4D" fill-opacity="1" text-anchor="middle">5</text><line x1="65.6" x2="65.6" y1="227.3" y2="228.6" stroke="#333" stroke-width="0.5"/><text x="65.6" y="232.9" font-size="4" fill="#4D4D4D" fill-opacity="1" text-anchor="middle">10</text><line x1="106.9" x2="106.9" y1="227.3" y2="228.6" stroke="#333" stroke-width="0.5"/><text x="106.9" y="232.9" font-size="4" fill="#4D4D4D" fill-opacity="1" text-anchor="middle">15</text><line x1="149.2" x2="149.2" y1="227.3" y2="228.6" stroke="#333" stroke-width="0.5"/><text x="149.2" y="232.9" font-size="4" fill="#4D4D4D" fill-opacity="1" text-anchor="middle">20</text><line x1="15.8" x2="17.1" y1="177.3" y2="177.3" stroke="#333" stroke-width="0.5"/><text x="15.3" y="178.65" font-size="3.9" fill="#4D4D4D" fill-opacity="1" text-anchor="end">30000</text><line x1="15.8" x2="17.1" y1="193.2" y2="193.2" stroke="#333" stroke-width="0.5"/><text x="15.3" y="194.55" font-size="3.9" fill="#4D4D4D" fill-opacity="1" text-anchor="end">20000</text><line x1="15.8" x2="17.1" y1="209.5" y2="209.5" stroke="#333" stroke-width="0.5"/><text x="15.3" y="210.85" font-size="3.9" fill="#4D4D4D" fill-opacity="1" text-anchor="end">10000</text><line x1="15.8" x2="17.1" y1="226.3" y2="226.3" stroke="#333" stroke-width="0.5"/><text x="15.3" y="227.65" font-size="3.9" fill="#4D4D4D" fill-opacity="1" text-anchor="end">0</text><text x="17.1" y="168.3" font-size="6" fill="#000" fill-opacity="1">PRSA_dataset</text><text x="86.5" y="239.6" font-size="5" fill="#000" fill-opacity="0.85" text-anchor="middle">% of observations with missing values</text><text transform="translate(3.8,199.6) rotate(-90)" font-size="5" fill="#000" fill-opacity="0.75" text-anchor="middle"># of iters</text></g>
<g><rect x="176.1" y="171.3" width="140.9" height="55.7" fill="#EBEBEB"/><line x1="176.1" x2="317" y1="186.3" y2="186.3" stroke="#fff" stroke-width="0.8"/><line x1="176.1" x2="317" y1="199.1" y2="199.1" stroke="#fff" stroke-width="0.8"/><line x1="176.1" x2="317" y1="206.3" y2="206.3" stroke="#fff" stroke-width="0.8"/><line x1="182.4" x2="182.4" y1="171.3" y2="227" stroke="#fff" stroke-width="0.8"/><line x1="204.1" x2="204.1" y1="171.3" y2="227" stroke="#fff" stroke-width="0.8"/><line x1="268.2" x2="268.2" y1="171.3" y2="227" stroke="#fff" stroke-width="0.8"/><line x1="310.4" x2="310.4" y1="171.3" y2="227" stroke="#fff" stroke-width="0.8"/><polyline points="182.4,218.9 225.1,211.9 268.2,204 310.4,196.3" fill="none" stroke="#F8766D" stroke-width="0.72" stroke-dasharray="2.6 2"/><circle cx="182.4" cy="218.9" r="1" fill="#F8766D"/><circle cx="225.1" cy="211.9" r="1" fill="#F8766D"/><circle cx="268.2" cy="204" r="1" fill="#F8766D"/><circle cx="310.4" cy="196.3" r="1" fill="#F8766D"/><polyline points="182.4,225.6 225.1,223.9 268.2,222.6 310.4,220.2" fill="none" stroke="#A3A500" stroke-width="0.72" stroke-dasharray="73 13"/><circle cx="182.4" cy="225.6" r="1" fill="#A3A500"/><circle cx="225.1" cy="223.9" r="1" fill="#A3A500"/><circle cx="268.2" cy="222.6" r="1" fill="#A3A500"/><circle cx="310.4" cy="220.2" r="1" fill="#A3A500"/><polyline points="182.4,217.2 225.1,210 268.2,201.6 310.4,192.7" fill="none" stroke="#00BF7D" stroke-width="0.72" stroke-dasharray="3.4 2.2"/><circle cx="182.4" cy="217.2" r="1" fill="#00BF7D"/><circle cx="225.1" cy="210" r="1" fill="#00BF7D"/><circle cx="268.2" cy="201.6" r="1" fill="#00BF7D"/><circle cx="310.4" cy="192.7" r="1" fill="#00BF7D"/><polyline points="182.4,213.1 225.1,199.8 268.2,187.1 310.4,173.8" fill="none" stroke="#00B0F6" stroke-width="0.72" stroke-dasharray="1.4 1"/><circle cx="182.4" cy="213.1" r="1" fill="#00B0F6"/><circle cx="225.1" cy="199.8" r="1" fill="#00B0F6"/><circle cx="268.2" cy="187.1" r="1" fill="#00B0F6"/><circle cx="310.4" cy="173.8" r="1" fill="#00B0F6"/><polyline points="182.4,225.8 225.1,224.1 268.2,223.3 310.4,220.9" fill="none" stroke="#E76BF3" stroke-width="0.72" stroke-dasharray="12 10"/><circle cx="182.4" cy="225.8" r="1" fill="#E76BF3"/><circle cx="225.1" cy="224.1" r="1" fill="#E76BF3"/><circle cx="268.2" cy="223.3" r="1" fill="#E76BF3"/><circle cx="310.4" cy="220.9" r="1" fill="#E76BF3"/><line x1="182.4" x2="182.4" y1="227" y2="228.3" stroke="#333" stroke-width="0.5"/><text x="182.4" y="232.6" font-size="4" fill="#4D4D4D" fill-opacity="1" text-anchor="middle">10</text><line x1="225.1" x2="225.1" y1="227" y2="228.3" stroke="#333" stroke-width="0.5"/><text x="225.1" y="232.6" font-size="4" fill="#4D4D4D" fill-opacity="1" text-anchor="middle">20</text><line x1="268.2" x2="268.2" y1="227" y2="228.3" stroke="#333" stroke-width="0.5"/><text x="268.2" y="232.6" font-size="4" fill="#4D4D4D" fill-opacity="1" text-anchor="middle">30</text><line x1="310.4" x2="310.4" y1="227" y2="228.3" stroke="#333" stroke-width="0.5"/><text x="310.4" y="232.6" font-size="4" fill="#4D4D4D" fill-opacity="1" text-anchor="middle">40</text><line x1="174.8" x2="176.1" y1="174.1" y2="174.1" stroke="#333" stroke-width="0.5"/><text x="174.3" y="175.45" font-size="3.9" fill="#4D4D4D" fill-opacity="1" text-anchor="end">400</text><line x1="174.8" x2="176.1" y1="186.3" y2="186.3" stroke="#333" stroke-width="0.5"/><text x="174.3" y="187.65" font-size="3.9" fill="#4D4D4D" fill-opacity="1" text-anchor="end">300</text><line x1="174.8" x2="176.1" y1="199.1" y2="199.1" stroke="#333" stroke-width="0.5"/><text x="174.3" y="200.45" font-size="3.9" fill="#4D4D4D" fill-opacity="1" text-anchor="end">200</text><line x1="174.8" x2="176.1" y1="212.7" y2="212.7" stroke="#333" stroke-width="0.5"/><text x="174.3" y="214.05" font-size="3.9" fill="#4D4D4D" fill-opacity="1" text-anchor="end">100</text><line x1="174.8" x2="176.1" y1="226" y2="226" stroke="#333" stroke-width="0.5"/><text x="174.3" y="227.35" font-size="3.9" fill="#4D4D4D" fill-opacity="1" text-anchor="end">0</text><text x="176.1" y="168.3" font-size="6" fill="#000" fill-opacity="1">UWave</text><text x="246.55" y="239.3" font-size="5" fill="#000" fill-opacity="0.85" text-anchor="middle">% of observations with missing values</text><text transform="translate(164.7,199.15) rotate(-90)" font-size="5" fill="#000" fill-opacity="0.75" text-anchor="middle">Time (sec)</text></g>
<g><text x="226.6" y="251" font-size="5" fill="#000" fill-opacity="0.8">method</text><rect x="244.8" y="245.8" width="7.3" height="7.2" fill="#F2F2F2"/><line x1="245.3" x2="251.6" y1="249.5" y2="249.5" stroke="#F8766D" stroke-width="0.5" stroke-opacity="0.25"/><circle cx="248.3" cy="249.5" r="1.05" fill="#F8766D"/><text x="253" y="250.9" font-size="4" fill="#000" fill-opacity="0.75">Mean</text><rect x="267.3" y="245.8" width="7.3" height="7.2" fill="#F2F2F2"/><line x1="267.8" x2="274.1" y1="249.5" y2="249.5" stroke="#A3A500" stroke-width="0.5" stroke-opacity="0.25"/><circle cx="270.8" cy="249.5" r="1.05" fill="#A3A500"/><text x="275.5" y="250.9" font-size="4" fill="#000" fill-opacity="0.75">Last Observation Carried Forward</text><rect x="340" y="245.8" width="7.3" height="7.2" fill="#F2F2F2"/><line x1="340.5" x2="346.8" y1="249.5" y2="249.5" stroke="#00BF7D" stroke-width="0.5" stroke-opacity="0.25"/><circle cx="343.5" cy="249.5" r="1.05" fill="#00BF7D"/><text x="348.2" y="250.9" font-size="4" fill="#000" fill-opacity="0.75">Mode</text><rect x="359" y="245.8" width="7.3" height="7.2" fill="#F2F2F2"/><line x1="359.5" x2="365.8" y1="249.5" y2="249.5" stroke="#00B0F6" stroke-width="0.5" stroke-opacity="0.25"/><circle cx="362.5" cy="249.5" r="1.05" fill="#00B0F6"/><text x="367.2" y="250.9" font-size="4" fill="#000" fill-opacity="0.75">Original</text><rect x="382.9" y="245.8" width="7.3" height="7.2" fill="#F2F2F2"/><line x1="383.4" x2="389.7" y1="249.5" y2="249.5" stroke="#E76BF3" stroke-width="0.5" stroke-opacity="0.25"/><circle cx="386.4" cy="249.5" r="1.05" fill="#E76BF3"/><text x="391.1" y="250.9" font-size="4" fill="#000" fill-opacity="0.75">Random TS</text></g>
</svg></body></html>
